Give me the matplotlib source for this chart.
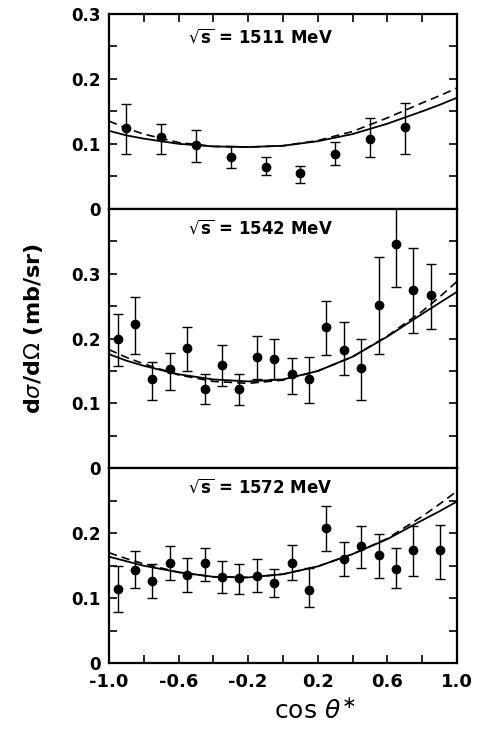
import matplotlib
matplotlib.use("Agg")
import matplotlib.pyplot as plt
import numpy as np
from matplotlib.ticker import MultipleLocator, FixedLocator, FixedFormatter

plt.rcParams['font.family'] = ['DejaVu Sans']
plt.rcParams['mathtext.fontset'] = 'dejavusans'
plt.rcParams['axes.unicode_minus'] = False

# ---------------- data ----------------
panel_labels = ["1511", "1542", "1572"]

# Panel 1: sqrt(s) = 1511 MeV
x1 = [-0.9, -0.7, -0.5, -0.3, -0.1, 0.1, 0.3, 0.5, 0.7]
y1 = [0.125, 0.111, 0.098, 0.080, 0.065, 0.055, 0.084, 0.108, 0.126]
y1_hi = [0.162, 0.131, 0.122, 0.097, 0.079, 0.066, 0.103, 0.140, 0.163]
y1_lo = [0.085, 0.085, 0.072, 0.062, 0.052, 0.040, 0.067, 0.079, 0.084]

# Panel 2: sqrt(s) = 1542 MeV
x2 = [-0.95, -0.85, -0.75, -0.65, -0.55, -0.45, -0.35, -0.25, -0.15, -0.05,
      0.05, 0.15, 0.25, 0.35, 0.45, 0.55, 0.65, 0.75, 0.85]
y2 = [0.199, 0.223, 0.138, 0.153, 0.185, 0.123, 0.160, 0.123, 0.172, 0.169,
      0.145, 0.138, 0.218, 0.183, 0.154, 0.252, 0.345, 0.275, 0.267]
y2_hi = [0.238, 0.264, 0.164, 0.178, 0.218, 0.145, 0.190, 0.146, 0.204, 0.200,
         0.170, 0.172, 0.258, 0.225, 0.199, 0.326, 0.405, 0.340, 0.315]
y2_lo = [0.157, 0.176, 0.106, 0.120, 0.150, 0.099, 0.127, 0.097, 0.138, 0.138,
         0.115, 0.100, 0.174, 0.144, 0.106, 0.176, 0.280, 0.209, 0.214]

# Panel 3: sqrt(s) = 1572 MeV
x3 = [-0.95, -0.85, -0.75, -0.65, -0.55, -0.45, -0.35, -0.25, -0.15, -0.05,
      0.05, 0.15, 0.25, 0.35, 0.45, 0.55, 0.65, 0.75, 0.9]
y3 = [0.114, 0.144, 0.127, 0.155, 0.136, 0.154, 0.132, 0.131, 0.135, 0.124,
      0.155, 0.113, 0.208, 0.160, 0.180, 0.166, 0.145, 0.174, 0.174]
y3_hi = [0.149, 0.172, 0.152, 0.181, 0.162, 0.177, 0.158, 0.153, 0.160, 0.145,
         0.182, 0.146, 0.242, 0.186, 0.212, 0.199, 0.177, 0.211, 0.213]
y3_lo = [0.079, 0.115, 0.100, 0.128, 0.110, 0.126, 0.108, 0.107, 0.110, 0.102,
         0.128, 0.087, 0.172, 0.135, 0.146, 0.131, 0.116, 0.135, 0.129]

# Fit curves (read at fixed cos theta values)
curve_x = [-1.0, -0.9, -0.8, -0.6, -0.4, -0.2, 0.0, 0.2, 0.4, 0.6, 0.8, 0.9, 1.0]
solid1 = [0.120, 0.113, 0.108, 0.100, 0.096, 0.095, 0.097, 0.104, 0.115, 0.131, 0.150, 0.160, 0.171]
dashed1 = [0.135, 0.124, 0.115, 0.102, 0.096, 0.095, 0.097, 0.105, 0.119, 0.140, 0.163, 0.174, 0.186]
solid2 = [0.176, 0.166, 0.158, 0.145, 0.137, 0.134, 0.137, 0.150, 0.172, 0.203, 0.238, 0.255, 0.272]
dashed2 = [0.183, 0.171, 0.161, 0.144, 0.134, 0.131, 0.136, 0.150, 0.172, 0.204, 0.242, 0.264, 0.288]
solid3 = [0.164, 0.157, 0.150, 0.140, 0.133, 0.132, 0.137, 0.149, 0.168, 0.191, 0.220, 0.234, 0.249]
dashed3 = [0.170, 0.161, 0.153, 0.140, 0.133, 0.132, 0.137, 0.149, 0.168, 0.192, 0.226, 0.245, 0.265]

y_ranges = [0.3, 0.4, 0.3]
x_tick_labels = ["-1.0", "-0.6", "-0.2", "0.2", "0.6", "1.0"]
x_tick_vals = [-1.0, -0.6, -0.2, 0.2, 0.6, 1.0]

# ---------------- figure ----------------
fig = plt.figure(figsize=(4.8, 7.36), dpi=100)
gs = fig.add_gridspec(3, 1, height_ratios=y_ranges, hspace=0,
                      left=0.227, right=0.952, top=0.981, bottom=0.099)

datasets = [(x1, y1, y1_hi, y1_lo, solid1, dashed1),
            (x2, y2, y2_hi, y2_lo, solid2, dashed2),
            (x3, y3, y3_hi, y3_lo, solid3, dashed3)]
text_pos = [(0.227, 0.88), (0.227, 0.923), (0.227, 0.904)]

axes = []
for i, (xs, ys, hi, lo, sol, das) in enumerate(datasets):
    ax = fig.add_subplot(gs[i])
    axes.append(ax)
    ys_a = np.array(ys)
    yerr = [ys_a - np.array(lo), np.array(hi) - ys_a]
    ax.errorbar(xs, ys, yerr=yerr, fmt='o', color='black', ms=6,
                elinewidth=1.0, capsize=3.5, capthick=1.0)
    ax.plot(curve_x, sol, color='black', lw=1.3, ls='-')
    ax.plot(curve_x, das, color='black', lw=1.2, ls=(0, (5, 3)))
    ax.set_xlim(-1.0, 1.0)
    ymax = y_ranges[i]
    ax.set_ylim(0, ymax)
    major = [round(v * 0.1, 2) for v in range(0, int(round(ymax * 10)))]
    if i == 0:
        major = [0.0, 0.1, 0.2, 0.3]
    ax.yaxis.set_major_locator(FixedLocator(major))
    ax.yaxis.set_major_formatter(FixedFormatter(["0" if v == 0 else f"{v:.1f}" for v in major]))
    ax.yaxis.set_minor_locator(MultipleLocator(0.05))
    ax.tick_params(axis='y', which='both', direction='in', length=6, width=1.2,
                   left=True, right=True, labelsize=12, pad=6)
    ax.xaxis.set_major_locator(FixedLocator(x_tick_vals))
    ax.xaxis.set_minor_locator(MultipleLocator(0.2))
    if i == 0:
        ax.tick_params(axis='x', which='both', direction='in', length=6, width=1.2,
                       top=True, bottom=False, labelbottom=False)
    elif i == 1:
        ax.tick_params(axis='x', which='both', top=False, bottom=False, labelbottom=False)
    else:
        ax.tick_params(axis='x', which='both', direction='in', length=6, width=1.2,
                       top=False, bottom=True, labelbottom=True, labelsize=13, pad=7)
        ax.set_xticklabels(x_tick_labels)
    for lab in ax.get_yticklabels() + ax.get_xticklabels():
        lab.set_fontweight('bold')
    for s in ax.spines.values():
        s.set_linewidth(1.6)
    tx, ty = text_pos[i]
    ax.text(tx, ty, r'$\sqrt{\mathbf{s}}$' + f" = {panel_labels[i]} MeV",
            transform=ax.transAxes, ha='left', va='center', fontsize=12,
            fontweight='bold')

fig.text(0.069, 0.554, r'd$\sigma$/d$\Omega$ (mb/sr)', rotation=90,
         ha='center', va='center', fontsize=16, fontweight='bold')
fig.text(0.656, 0.035, r'cos $\theta^{\ast}$', ha='center', va='center', fontsize=18)

fig.savefig('out.png', dpi=100)
